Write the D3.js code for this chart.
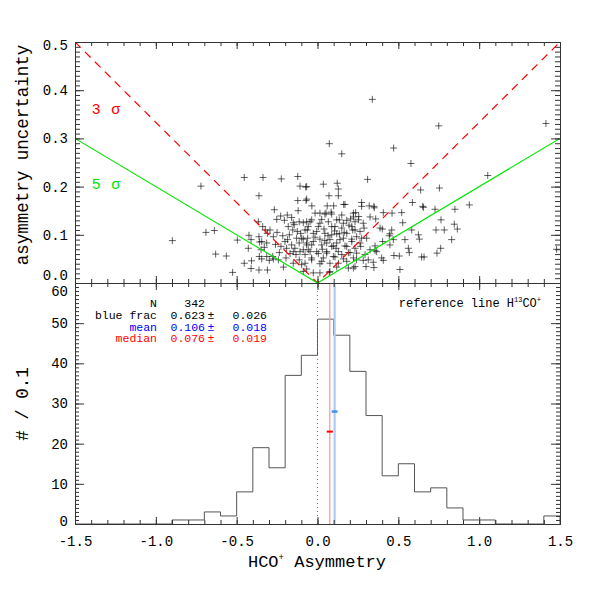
<!DOCTYPE html>
<html><head><meta charset="utf-8">
<script src="https://cdn.jsdelivr.net/npm/d3@7"></script>
<style>body{margin:0;background:#fff}</style>
</head><body><svg id="c" width="600" height="600"></svg>
<script>
// ---------------- DATA ----------------
const scatterPoints = [
 // left side
 [-0.898,0.088],[-0.721,0.201],[-0.690,0.105],[-0.638,0.109],[-0.630,0.060],[-0.564,0.056],[-0.525,0.022],[-0.496,0.089],
 [-0.453,0.219],[-0.337,0.219],[-0.224,0.216],[-0.362,0.181],[-0.366,0.127],[-0.424,0.099],[-0.362,0.096],[-0.411,0.090],
 [-0.358,0.085],[-0.428,0.072],[-0.349,0.069],[-0.360,0.055],[-0.345,0.050],[-0.408,0.046],[-0.453,0.041],[-0.411,0.030],
 [-0.362,0.027],[-0.339,0.117],[-0.345,0.086],[-0.314,0.055],[-0.310,0.027],[-0.310,0.103],[-0.323,0.110],[-0.294,0.110],
 [-0.298,0.047],[-0.277,0.055],
 // middle-left
 [-0.122,0.221],[-0.108,0.201],[-0.073,0.199],[-0.122,0.171],[-0.071,0.171],[-0.267,0.152],[-0.228,0.139],[-0.187,0.141],
 [-0.160,0.136],[-0.252,0.132],[-0.205,0.130],[-0.150,0.125],[-0.113,0.127],[-0.067,0.127],[-0.153,0.110],[-0.125,0.107],
 [-0.104,0.103],[-0.077,0.110],[-0.273,0.096],[-0.174,0.100],[-0.129,0.093],[-0.088,0.091],[-0.201,0.086],[-0.160,0.079],
 [-0.113,0.083],[-0.067,0.079],[-0.191,0.072],[-0.150,0.065],[-0.170,0.061],[-0.133,0.059],[-0.108,0.065],[-0.077,0.059],
 [-0.236,0.063],[-0.273,0.050],[-0.113,0.048],[-0.211,0.033],[-0.067,0.029],[-0.150,0.041],[-0.098,0.038],[-0.226,0.076],
 [-0.242,0.048],[-0.181,0.117],[-0.144,0.121],[-0.314,0.083],[-0.329,0.074],[-0.098,0.093],[-0.088,0.069],[-0.046,0.065],
 [-0.036,0.048],[-0.077,0.041],[-0.088,0.024],[-0.063,0.110],[-0.046,0.127],[-0.088,0.125],[-0.026,0.086],[-0.067,0.083],
 [-0.250,0.105],[-0.215,0.098],[-0.185,0.090],[-0.260,0.080],[-0.140,0.072],[-0.195,0.052],[-0.120,0.150],[-0.035,0.160],
 // centre
 [0.036,0.205],[0.122,0.207],[0.129,0.195],[-0.067,0.200],[0.071,0.181],[0.129,0.181],[-0.067,0.174],[0.170,0.163],
 [-0.015,0.145],[0.015,0.145],[0.046,0.143],[0.088,0.143],[0.150,0.141],[0.222,0.145],[-0.036,0.131],[0.026,0.132],
 [0.067,0.127],[0.119,0.131],[0.181,0.130],[-0.057,0.117],[0.005,0.117],[0.088,0.117],[0.150,0.114],[0.212,0.117],
 [-0.026,0.103],[0.046,0.103],[0.119,0.102],[0.181,0.103],[-0.061,0.093],[0.015,0.091],[0.077,0.090],[0.139,0.090],
 [0.212,0.091],[-0.036,0.079],[0.026,0.079],[0.098,0.077],[0.170,0.077],[-0.057,0.069],[-0.005,0.065],[0.057,0.065],
 [0.129,0.065],[0.191,0.063],[-0.036,0.052],[0.036,0.052],[0.108,0.054],[0.160,0.050],[0.077,0.041],[0.015,0.040],
 [0.119,0.033],[-0.026,0.021],[0.015,0.021],[0.077,0.024],
 [0.236,0.146],[0.255,0.138],[0.205,0.133],[0.160,0.124],[0.232,0.127],[0.283,0.124],[0.263,0.107],[0.232,0.110],
 [0.108,0.117],[-0.005,0.107],[0.088,0.100],[0.135,0.102],[0.160,0.093],[0.273,0.093],[0.267,0.076],[0.232,0.072],
 [0.181,0.076],[0.119,0.083],[0.088,0.076],[0.057,0.083],[0.005,0.061],[0.057,0.062],[0.098,0.055],[0.150,0.059],
 [0.201,0.063],[0.242,0.048],[0.181,0.045],[0.129,0.041],[0.026,0.045],[0.222,0.031],[0.191,0.031],[0.073,0.022],
 [0.162,0.163],[0.084,0.147],[0.053,0.145],[0.135,0.131],[0.015,0.124],[0.040,0.112],[0.105,0.108],[0.065,0.098],
 [0.030,0.070],[0.115,0.072],[0.045,0.088],[-0.015,0.095],[0.165,0.105],[0.195,0.120],[0.100,0.160],[0.060,0.160],
 // outliers
 [0.339,0.381],[0.073,0.289],[0.150,0.268],[0.750,0.326],[1.413,0.331],[0.471,0.280],[0.578,0.248],[0.310,0.215],
 [1.053,0.223],[0.754,0.197],[0.638,0.193],
 // right side
 [0.587,0.167],[0.651,0.159],[0.273,0.167],[0.273,0.159],[0.320,0.160],[0.349,0.159],[0.222,0.137],[0.253,0.131],
 [0.325,0.137],[0.360,0.133],[0.521,0.146],[0.527,0.125],[0.387,0.114],[0.401,0.112],[0.288,0.114],[0.218,0.110],
 [0.583,0.110],[0.624,0.100],[0.630,0.091],[0.448,0.102],[0.469,0.090],[0.541,0.090],[0.403,0.086],[0.304,0.093],
 [0.242,0.096],[0.212,0.086],[0.263,0.083],[0.356,0.077],[0.448,0.079],[0.562,0.072],[0.568,0.063],[0.325,0.069],
 [0.356,0.067],[0.242,0.062],[0.294,0.059],[0.397,0.052],[0.473,0.057],[0.506,0.056],[0.644,0.054],[0.659,0.054],
 [0.222,0.052],[0.283,0.047],[0.345,0.043],[0.407,0.047],[0.232,0.034],[0.300,0.034],[0.349,0.032],[0.510,0.028],
 [0.407,0.146],[0.461,0.145],[0.351,0.156],[0.459,0.110],[0.444,0.098],[0.366,0.065],[0.314,0.048],
 // far right
 [0.939,0.162],[0.764,0.131],[0.846,0.122],[0.865,0.112],[0.784,0.110],[0.733,0.110],[0.830,0.090],[0.762,0.072],
 [0.739,0.062],[0.727,0.153],[0.850,0.153],[0.655,0.157],[1.479,0.070]
];

const binLower = [-1.5,-1.4,-1.3,-1.2,-1.1,-1.0,-0.9,-0.8,-0.7,-0.6,-0.5,-0.4,-0.3,-0.2,-0.1,
                  0.0,0.1,0.2,0.3,0.4,0.5,0.6,0.7,0.8,0.9,1.0,1.1,1.2,1.3,1.4];
const binCounts = [0,0,0,0,0,0,1,1,3,2,8,19,14,37,42,51,47,38,27,12,15,8,9,4,1,1,0,0,0,2];
const binWidth = 0.1;

const sigmaLevels = [3, 5];
const sigmaLabels = ["3", "5"];

const xTicks = [-1.5,-1.0,-0.5,0.0,0.5,1.0,1.5];
const xTickLabels = ["-1.5","-1.0","-0.5","0.0","0.5","1.0","1.5"];
const yTopTicks = [0,0.1,0.2,0.3,0.4,0.5];
const yTopLabels = ["0.0","0.1","0.2","0.3","0.4","0.5"];
const yHistTicks = [0,10,20,30,40,50,60];
const yHistLabels = ["0","10","20","30","40","50","60"];

const legendLabels = ["N","blue frac","mean","median"];
const legendValues = ["342","0.623","0.106","0.076"];
const legendErrors = ["","0.026","0.018","0.019"];

const meanValue = 0.106, meanError = 0.018, meanMarkCount = 28;
const medianValue = 0.076, medianError = 0.019, medianMarkCount = 23;

// ---------------- LAYOUT ----------------
const L = 75, R = 560, T1 = 42, B1 = 283, T2 = 283, B2 = 524;
const MONO = "'Liberation Mono','DejaVu Sans Mono',monospace";
const AX = "#333";

const svg = d3.select("#c");
const x = d3.scaleLinear().domain([-1.5,1.5]).range([L,R]);
const yTop = d3.scaleLinear().domain([0,0.5]).range([B1,T1]);
const yHist = d3.scaleLinear().domain([0,60]).range([B2,T2]);

const defs = svg.append("defs");
defs.append("clipPath").attr("id","clipTop").append("rect").attr("x",L).attr("y",T1).attr("width",R-L).attr("height",B1-T1);
defs.append("clipPath").attr("id","clipHist").append("rect").attr("x",L).attr("y",T2).attr("width",R-L).attr("height",B2-T2);

// ---------- top panel content ----------
const gTop = svg.append("g").attr("clip-path","url(#clipTop)");
gTop.selectAll("path.pt").data(scatterPoints).join("path")
  .attr("class","pt")
  .attr("d", d => `M${x(d[0])-3.5},${yTop(d[1])}h7M${x(d[0])},${yTop(d[1])-3.5}v7`)
  .attr("stroke","#000").attr("stroke-opacity",0.62).attr("stroke-width",1).attr("fill","none");

const lineGen = d3.line().x(d=>x(d[0])).y(d=>yTop(d[1]));
sigmaLevels.forEach((s,i)=>{
  const pts = [[-1.5,1.5/s],[0,0],[1.5,1.5/s]];
  gTop.append("path").attr("d",lineGen(pts)).attr("fill","none")
    .attr("stroke", i===0 ? "#ff0000" : "#00e600")
    .attr("stroke-width",1.2)
    .attr("stroke-dasharray", i===0 ? "8,6" : null);
});

// sigma labels
[[sigmaLabels[0],0.36,"#ff0000"],[sigmaLabels[1],0.205,"#00e600"]].forEach(([t,yv,c])=>{
  const tx = svg.append("text").attr("x",92).attr("y",yTop(yv)+5)
    .attr("font-family","'Liberation Sans',Arial,sans-serif").attr("font-size",15).attr("fill",c);
  tx.append("tspan").text(t);
  tx.append("tspan").attr("dx",11).text("σ");
});

// ---------- histogram content ----------
const gHist = svg.append("g").attr("clip-path","url(#clipHist)");
const stepPts = [[binLower[0],0]];
binLower.forEach((b,i)=>{ stepPts.push([b,binCounts[i]]); stepPts.push([b+binWidth,binCounts[i]]); });
stepPts.push([binLower[binLower.length-1]+binWidth,0]);
gHist.append("path")
  .attr("d", d3.line().x(d=>x(d[0])).y(d=>yHist(d[1]))(stepPts))
  .attr("fill","none").attr("stroke","#555").attr("stroke-width",1);

gHist.append("line").attr("x1",x(0)).attr("x2",x(0)).attr("y1",T2).attr("y2",B2)
  .attr("stroke","#777").attr("stroke-dasharray","1,3").attr("stroke-width",1);
gHist.append("line").attr("x1",x(medianValue)).attr("x2",x(medianValue)).attr("y1",T2).attr("y2",B2)
  .attr("stroke","#ff9a9a").attr("stroke-width",1.3);
gHist.append("line").attr("x1",x(meanValue)).attr("x2",x(meanValue)).attr("y1",T2).attr("y2",B2)
  .attr("stroke","#a9cdfa").attr("stroke-width",2.2);
gHist.append("line").attr("x1",x(medianValue-medianError)).attr("x2",x(medianValue+medianError))
  .attr("y1",yHist(medianMarkCount)).attr("y2",yHist(medianMarkCount))
  .attr("stroke","#ff0000").attr("stroke-width",2);
gHist.append("line").attr("x1",x(meanValue-meanError)).attr("x2",x(meanValue+meanError))
  .attr("y1",yHist(meanMarkCount)).attr("y2",yHist(meanMarkCount))
  .attr("stroke","#3d94ea").attr("stroke-width",2.5);

// ---------- axes ----------
function axis(gen, tx, ty, values, size, labels, pad){
  const a = gen.tickValues(values).tickSize(size).tickSizeOuter(0)
    .tickFormat(labels ? ((d,i)=>labels[i]) : "").tickPadding(pad||3);
  const g = svg.append("g").attr("transform",`translate(${tx},${ty})`).call(a);
  g.attr("font-family",MONO).attr("font-size",14);
  g.selectAll("path.domain").attr("stroke",AX);
  g.selectAll(".tick line").attr("stroke",AX);
  g.selectAll("text").attr("fill","#000");
  return g;
}
const xMinor = d3.range(-15,16).map(v=>v/10);
const yTopMinor = d3.range(0,51).map(v=>v/100);
const yHistMinor = d3.range(0,61);

// top panel
axis(d3.axisLeft(yTop), L,0, yTopMinor, -5);
const gl1 = axis(d3.axisLeft(yTop), L,0, yTopTicks, -9, yTopLabels, 7);
axis(d3.axisRight(yTop), R,0, yTopMinor, -5);
axis(d3.axisRight(yTop), R,0, yTopTicks, -9);
axis(d3.axisTop(x), 0,T1, xMinor, -4);
axis(d3.axisTop(x), 0,T1, xTicks, -7);
axis(d3.axisBottom(x), 0,B1, xMinor, -4);
axis(d3.axisBottom(x), 0,B1, xTicks, -7);
gl1.selectAll(".tick text").filter(d=>d===0).attr("dy","-0.22em");
gl1.selectAll(".tick text").filter(d=>d===0.5).attr("dy","0.5em");

// histogram panel
axis(d3.axisLeft(yHist), L,0, yHistMinor, -4);
const gl2 = axis(d3.axisLeft(yHist), L,0, yHistTicks, -9, yHistLabels, 7);
axis(d3.axisRight(yHist), R,0, yHistMinor, -4);
axis(d3.axisRight(yHist), R,0, yHistTicks, -9);
axis(d3.axisTop(x), 0,T2, xMinor, -4);
axis(d3.axisTop(x), 0,T2, xTicks, -7);
axis(d3.axisBottom(x), 0,B2, xMinor, -4);
axis(d3.axisBottom(x), 0,B2, xTicks, -7, xTickLabels, 12);
gl2.selectAll(".tick text").filter(d=>d===60).attr("dy","0.9em");
gl2.selectAll(".tick text").filter(d=>d===0).attr("dy","0.1em");

// ---------- titles ----------
svg.append("text").attr("transform","translate(28,155) rotate(-90)")
  .attr("text-anchor","middle").attr("font-family",MONO).attr("font-size",17.5)
  .text("asymmetry uncertainty");
svg.append("text").attr("transform","translate(28,404) rotate(-90)")
  .attr("text-anchor","middle").attr("font-family",MONO).attr("font-size",17.5)
  .text("# / 0.1");
const xt = svg.append("text").attr("x",317).attr("y",567).attr("text-anchor","middle")
  .attr("font-family",MONO).attr("font-size",17);
xt.append("tspan").text("HCO");
xt.append("tspan").attr("font-size",9).attr("dy",-7).text("+");
xt.append("tspan").attr("dy",7).text(" Asymmetry");

// ---------- legend ----------
const legColors = ["#000","#000","#0000ff","#ff0000"];
legendLabels.forEach((lab,i)=>{
  const yb = 307 + i*11.8;
  const c = legColors[i];
  const f = t=>svg.append("text").attr("y",yb).attr("font-family",MONO).attr("font-size",11.5).attr("fill",c).text(t);
  f(lab).attr("x",157).attr("text-anchor","end");
  f(legendValues[i]).attr("x",205).attr("text-anchor","end");
  if (legendErrors[i]) {
    f("±").attr("x",207.5).attr("text-anchor","start");
    f(legendErrors[i]).attr("x",267).attr("text-anchor","end");
  }
});
const rt = svg.append("text").attr("x",541).attr("y",307).attr("text-anchor","end")
  .attr("font-family",MONO).attr("font-size",12).attr("fill","#000");
rt.append("tspan").text("reference line H");
rt.append("tspan").attr("font-size",7).attr("dy",-5).text("13");
rt.append("tspan").attr("dy",5).text("CO");
rt.append("tspan").attr("font-size",7).attr("dy",-5).text("+");
</script>
</body></html>
